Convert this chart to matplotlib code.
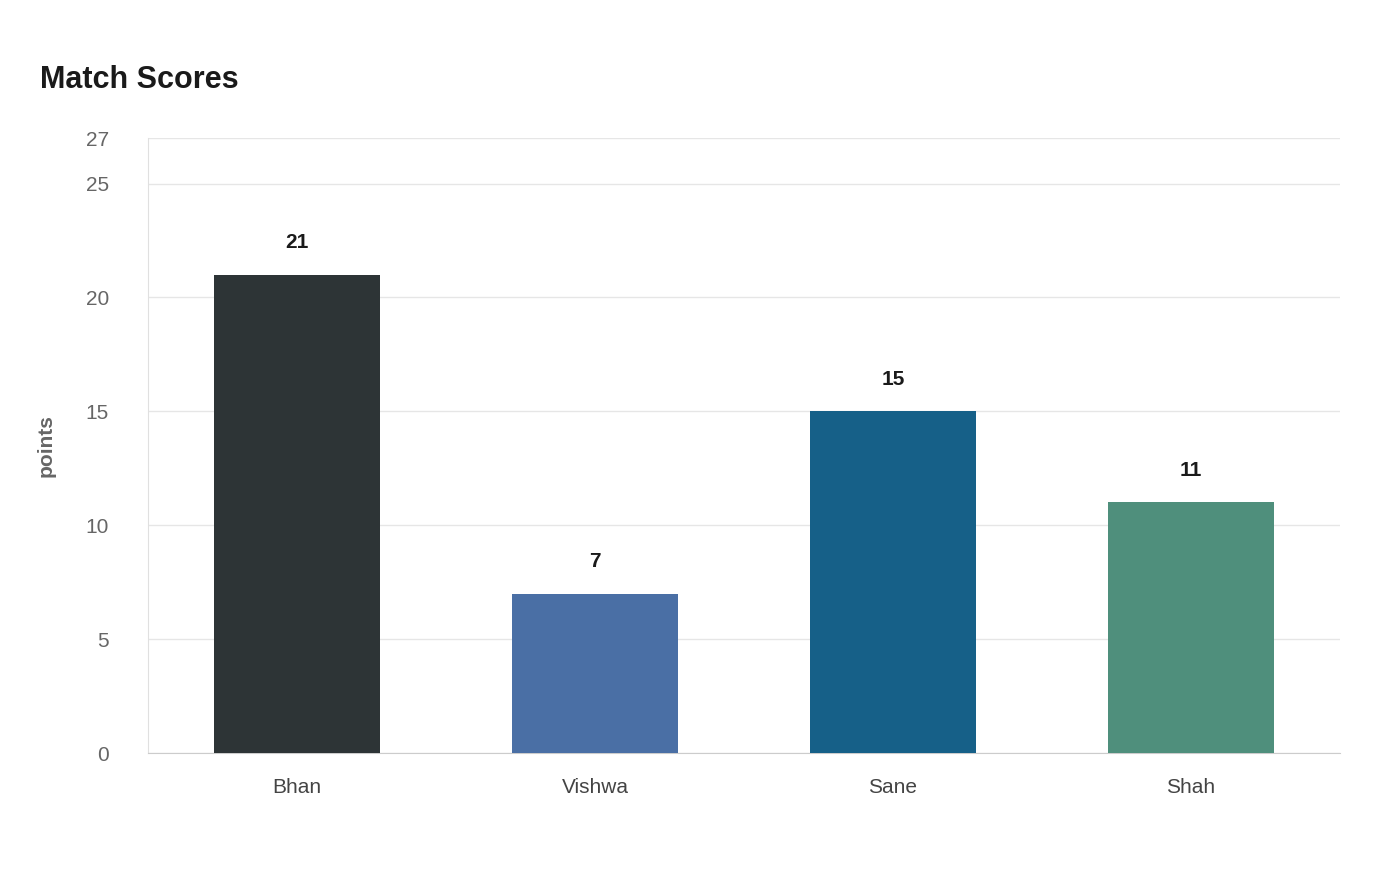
import matplotlib
matplotlib.use("Agg")
import matplotlib.pyplot as plt

plt.rcParams['font.family'] = ['Liberation Sans', 'DejaVu Sans']

players = ["Bhan", "Vishwa", "Sane", "Shah"]
points = [21, 7, 15, 11]
colors = ["#2d3436", "#4a6fa5", "#166088", "#4f8f7c"]
yticks = [0, 5, 10, 15, 20, 25, 27]

fig = plt.figure(figsize=(14, 8.8), dpi=100)
ax = fig.add_axes([148 / 1400, 1 - 753 / 880, (1340 - 148) / 1400, (753 - 138) / 880])

x = list(range(len(players)))
ax.bar(x, points, width=0.56, color=colors, zorder=3)
for xi, v in zip(x, points):
    ax.text(xi, v + 1.0, str(v), ha="center", va="bottom", fontsize=15,
            fontweight="bold", color="#1a1a1a")

ax.set_xlim(-0.5, len(players) - 0.5)
ax.set_ylim(0, 27)
ax.set_yticks(yticks)
ax.set_xticks(x)
ax.set_xticklabels(players)
ax.tick_params(axis="x", length=0, pad=18, labelsize=15, labelcolor="#444444")
ax.tick_params(axis="y", length=0, pad=28, labelsize=15, labelcolor="#666666")
ax.grid(axis="y", color="#e6e6e6", linewidth=1, zorder=0)
for s in ["top", "right"]:
    ax.spines[s].set_visible(False)
ax.spines["left"].set_color("#e0e0e0")
ax.spines["bottom"].set_color("#cccccc")
ax.set_ylabel("points", fontsize=15, fontweight="bold", color="#666666", labelpad=22)

fig.text(40 / 1400, 1 - 80 / 880, "Match Scores", fontsize=22, fontweight="bold",
         color="#1a1a1a", va="center", ha="left")

fig.savefig("out.png", dpi=100)
